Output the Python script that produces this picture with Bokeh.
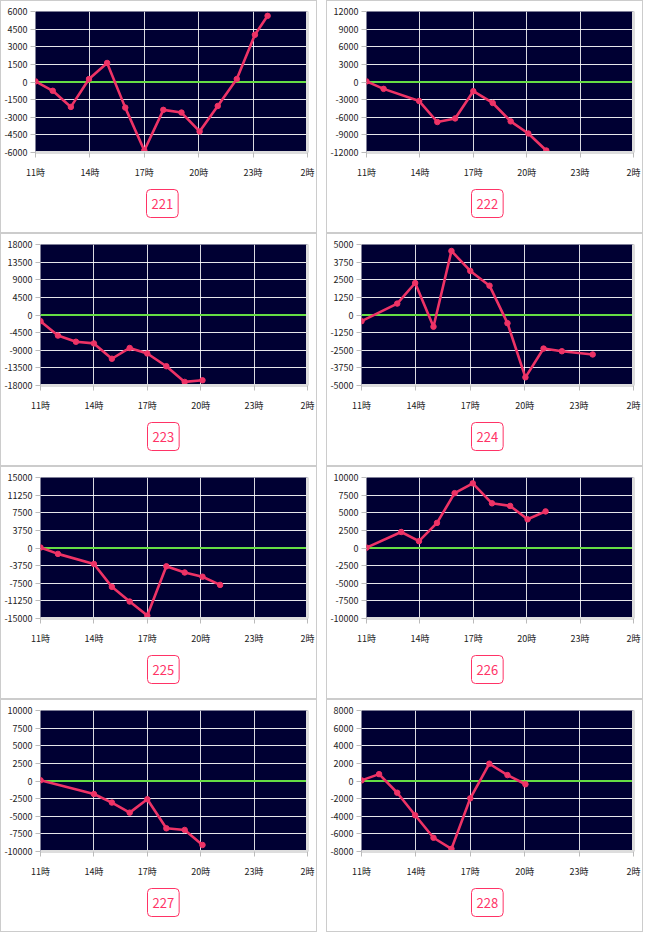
from bokeh.plotting import figure
from bokeh.models import Range1d, FixedTicker, NumeralTickFormatter, Title, LinearAxis
from bokeh.layouts import row, column
from bokeh.embed import file_html
from bokeh.resources import INLINE

# ---- data ----
names = ["221", "222", "223", "224", "225", "226", "227", "228"]
y_limits = [6000, 12000, 18000, 5000, 15000, 10000, 10000, 8000]

x_tick_hours = [11, 14, 17, 20, 23, 26]
x_tick_labels = ["11時", "14時", "17時", "20時", "23時", "2時"]

hours_221 = [11.0, 11.95, 12.95, 13.95, 14.95, 15.95, 17.0, 18.05, 19.05, 20.05, 21.05, 22.1, 23.1, 23.8]
vals_221 = [50, -750, -2120, 250, 1620, -2180, -5830, -2370, -2600, -4210, -2040, 250, 4020, 5630]

hours_222 = [11.0, 11.96, 13.96, 14.98, 15.98, 17.0, 18.09, 19.1, 20.09, 21.1]
vals_222 = [100, -1170, -3240, -6810, -6200, -1560, -3570, -6700, -8760, -11660]

hours_223 = [11.0, 11.98, 12.99, 14.0, 15.01, 16.01, 17.0, 18.07, 19.1, 20.1]
vals_223 = [-1580, -5250, -6830, -7250, -11170, -8420, -9830, -13080, -17080, -16670]

hours_224 = [11.0, 12.97, 13.96, 14.97, 15.96, 17.0, 18.06, 19.05, 20.04, 21.04, 22.05, 23.75]
vals_224 = [-440, 810, 2270, -830, 4540, 3125, 2080, -580, -4420, -2380, -2570, -2800]

hours_225 = [11.0, 11.98, 14.0, 15.01, 16.01, 17.0, 18.07, 19.1, 20.1, 21.09]
vals_225 = [100, -1250, -3400, -8260, -11390, -14380, -3890, -5210, -6110, -7850]

hours_226 = [11.0, 12.95, 13.95, 14.96, 15.95, 16.97, 18.05, 19.07, 20.05, 21.06]
vals_226 = [50, 2270, 970, 3560, 7780, 9170, 6340, 5970, 4070, 5190]

hours_227 = [11.0, 14.0, 15.01, 16.01, 17.0, 18.07, 19.1, 20.1]
vals_227 = [100, -1850, -3060, -4490, -2590, -6710, -6940, -9070]

hours_228 = [11.0, 11.97, 12.97, 13.96, 14.97, 15.96, 17.0, 18.05, 19.05, 20.04]
vals_228 = [70, 780, -1330, -3890, -6440, -7700, -1960, 1960, 670, -370]

hours = [hours_221, hours_222, hours_223, hours_224, hours_225, hours_226, hours_227, hours_228]
vals = [vals_221, vals_222, vals_223, vals_224, vals_225, vals_226, vals_227, vals_228]

# ---- style ----
CARD_W, CARD_H = 317, 233
FIG_W, FIG_H = CARD_W - 2, CARD_H - 2
B_TOP, B_BOTTOM, B_RIGHT = 10, 80, 9
left_borders = [31, 37, 35, 32, 35, 37, 35, 32]
BADGE_HALF_W = 15.5
LINE_COLOR = "#ee3366"
ZERO_COLOR = "#66dd44"
FRAME_BG = "#000033"
FONT = "Noto Sans CJK JP"
X0, X1 = 11, 26


def make_card(i):
    lim = y_limits[i]
    step = lim / 4
    yticks = [-lim + k * step for k in range(9)]
    lb = left_borders[i]
    p = figure(width=FIG_W, height=FIG_H,
               x_range=Range1d(X0, X1), y_range=Range1d(-lim, lim),
               output_backend="svg", toolbar_location=None,
               min_border_left=lb, min_border_right=B_RIGHT,
               min_border_top=B_TOP, min_border_bottom=B_BOTTOM,
               background_fill_color=FRAME_BG, border_fill_color="white",
               outline_line_color=None)

    # light shadow edge on the right of the frame
    right_axis = LinearAxis(ticker=FixedTicker(ticks=[]), axis_line_color="#dddddd",
                            axis_line_width=3, major_tick_line_color=None,
                            minor_tick_line_color=None)
    p.add_layout(right_axis, "right")

    # axes
    xax = p.xaxis[0]
    xax.ticker = FixedTicker(ticks=x_tick_hours)
    xax.major_label_overrides = {h: t for h, t in zip(x_tick_hours, x_tick_labels)}
    xax.axis_line_color = "#dddddd"
    xax.axis_line_width = 3
    xax.major_tick_line_color = "#bbbbbb"
    xax.major_tick_out = 5
    xax.major_tick_in = 0
    xax.minor_tick_line_color = None
    xax.major_label_standoff = 8
    xax.major_label_text_font = FONT
    xax.major_label_text_font_size = "9px"
    xax.major_label_text_color = "#222222"

    yax = p.yaxis[0]
    yax.ticker = FixedTicker(ticks=yticks)
    yax.formatter = NumeralTickFormatter(format="0")
    yax.axis_line_color = None
    yax.major_tick_line_color = "#bbbbbb"
    yax.major_tick_out = 5
    yax.major_tick_in = 0
    yax.minor_tick_line_color = None
    yax.major_label_standoff = 3
    yax.major_label_text_font = FONT
    yax.major_label_text_font_size = "9px"
    yax.major_label_text_color = "#222222"

    # grids
    p.xgrid.ticker = FixedTicker(ticks=x_tick_hours)
    p.ygrid.ticker = FixedTicker(ticks=yticks)
    p.xgrid.grid_line_color = "white"
    p.ygrid.grid_line_color = "white"
    p.xgrid.grid_line_alpha = 0.85
    p.ygrid.grid_line_alpha = 0.9

    # zero line
    p.line([X0, X1], [0, 0], line_color=ZERO_COLOR, line_width=2)

    # series
    p.line(hours[i], vals[i], line_color=LINE_COLOR, line_width=2.6)
    p.scatter(hours[i], vals[i], size=5.5, fill_color=LINE_COLOR, line_color=LINE_COLOR)

    # number badge as a title below the axis, left-aligned so it sits at the card centre
    offset = FIG_W / 2 - BADGE_HALF_W - lb
    badge = Title(text=names[i], align="left", offset=offset, standoff=12,
                  text_color="#ff3366", text_font=FONT, text_font_size="13px",
                  text_font_style="normal",
                  border_line_color="#ff3366", border_line_width=1,
                  border_radius=4, padding=(5, 9), background_fill_color="white")
    p.add_layout(badge, "below")

    return column(p, styles={"border": "1px solid #cccccc"})


cards = [make_card(i) for i in range(8)]
rows = [row(cards[2 * r], cards[2 * r + 1], spacing=9) for r in range(4)]
layout = column(*rows, spacing=0)

open("out.html", "w").write(file_html(layout, INLINE))
